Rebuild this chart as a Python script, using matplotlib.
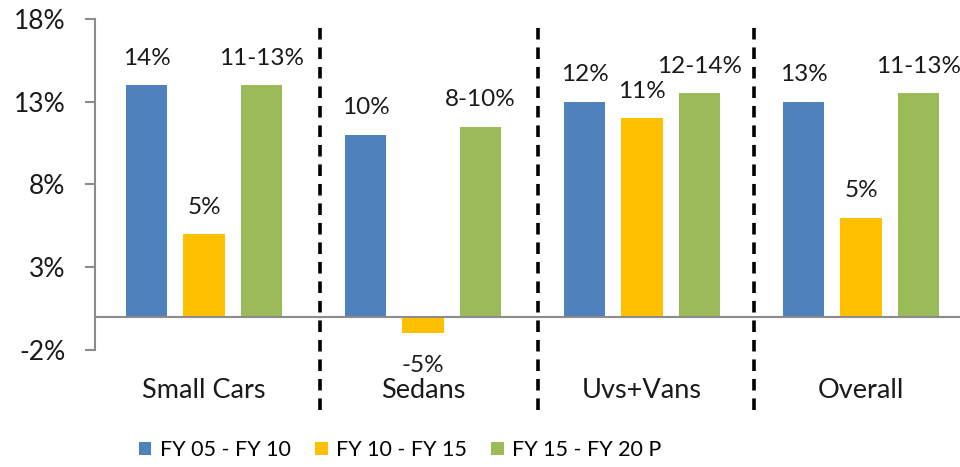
import numpy as np
import matplotlib.pyplot as plt

plt.rcParams['font.family'] = ['Lato', 'DejaVu Sans']

categories = ["Small Cars", "Sedans", "Uvs+Vans", "Overall"]
series = ["FY 05 - FY 10", "FY 10 - FY 15", "FY 15 - FY 20 P"]
values = [
    [14, 11, 13, 13],        # FY 05 - FY 10
    [5, -1, 12, 6],          # FY 10 - FY 15
    [14, 11.5, 13.5, 13.5],  # FY 15 - FY 20 P
]
labels = [
    ["14%", "10%", "12%", "13%"],
    ["5%", "-5%", "11%", "5%"],
    ["11-13%", "8-10%", "12-14%", "11-13%"],
]
yticks = [-2, 3, 8, 13, 18]
colors = ["#4F81BD", "#FFC000", "#9BBB59"]
separators = [0.53, 1.525, 2.51]

fig = plt.figure(figsize=(9.6, 4.67), dpi=100)
ax = fig.add_axes([94.5/960, 1-350/467, 1-94.5/960, 331/467])

x = np.arange(len(categories))
w = 0.19
step = 0.262
for i, (vals, labs, c) in enumerate(zip(values, labels, colors)):
    pos = x + (i-1)*step
    ax.bar(pos, vals, width=w, color=c, label=series[i], zorder=2)
    for px, v, t in zip(pos, vals, labs):
        off = 19.5 if v >= 0 else -23
        ax.annotate(t, (px, v), xytext=(0, off), textcoords="offset points",
                    ha="center", va="center", fontsize=17.5, color="#1a1a1a")

ax.axhline(0, color="#8c8c8c", lw=1.5, zorder=3)
for s in separators:
    ax.plot([s, s], [-5.6, 17.6], color="black", lw=2.6, ls=(0, (3.2, 2.2)),
            clip_on=False, zorder=4)

ax.set_xlim(-0.5, 3.452)
ax.set_ylim(-2, 18)
ax.set_yticks(yticks)
ax.set_yticklabels([f"{t}%" for t in yticks], fontsize=19)
ax.set_xticks(x)
ax.set_xticklabels(categories, fontsize=19.5, color="#1a1a1a")
ax.tick_params(axis="x", length=0, pad=20)
ax.tick_params(axis="y", length=7, width=1.5, color="#8c8c8c", pad=14, labelcolor="#1a1a1a")
for sp in ["top", "right", "bottom"]:
    ax.spines[sp].set_visible(False)
ax.spines["left"].set_color("#8c8c8c")
ax.spines["left"].set_linewidth(1.5)

fig.legend(loc="center", bbox_to_anchor=(400/960, 17/467), ncol=3, frameon=False,
           fontsize=15.5, handlelength=0.6, handleheight=0.6, handletextpad=0.4,
           columnspacing=1.1)

fig.savefig("out.png", dpi=100)
